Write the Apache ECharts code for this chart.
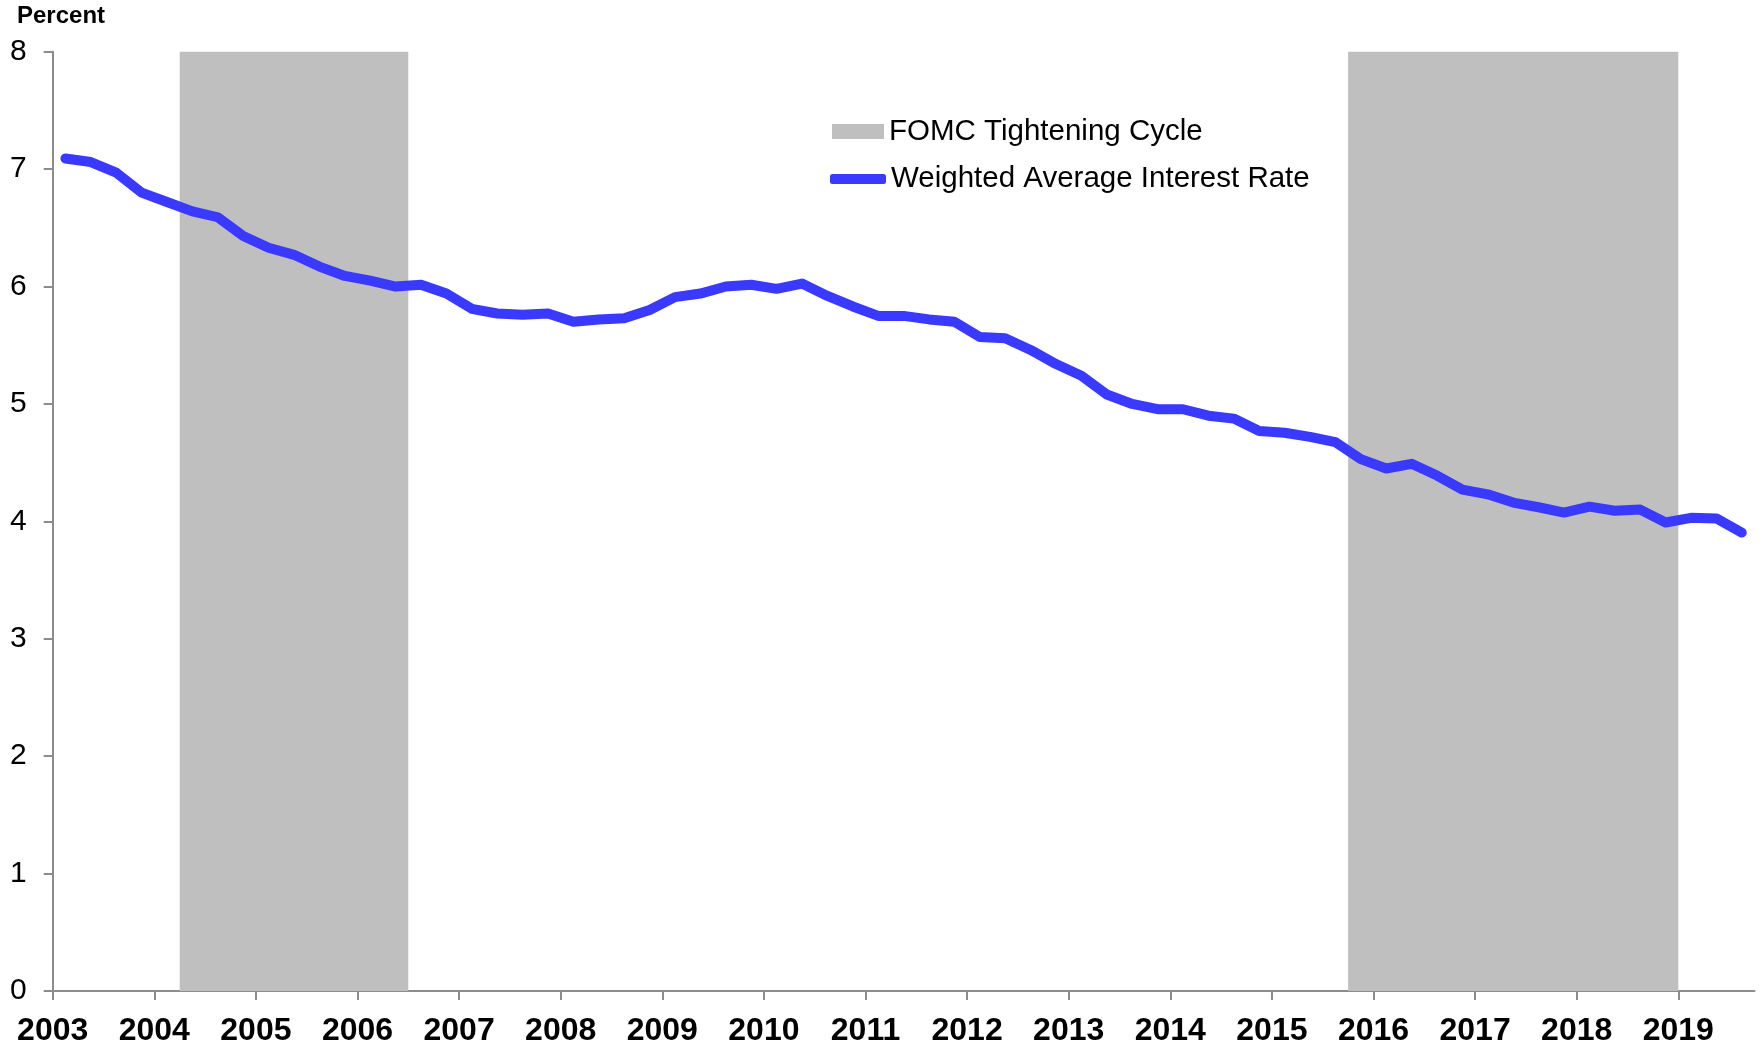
<!DOCTYPE html>
<html>
<head>
<meta charset="utf-8">
<script src="https://cdn.jsdelivr.net/npm/echarts@6/dist/echarts.min.js"></script>
<style>
html,body{margin:0;padding:0;background:#fff;}
#chart{width:1764px;height:1047px;}
</style>
</head>
<body>
<div id="chart"></div>
<script>
// quarterly observations
var quarters = [
	'2003Q1','2003Q2','2003Q3','2003Q4','2004Q1','2004Q2','2004Q3','2004Q4',
	'2005Q1','2005Q2','2005Q3','2005Q4','2006Q1','2006Q2','2006Q3','2006Q4',
	'2007Q1','2007Q2','2007Q3','2007Q4','2008Q1','2008Q2','2008Q3','2008Q4',
	'2009Q1','2009Q2','2009Q3','2009Q4','2010Q1','2010Q2','2010Q3','2010Q4',
	'2011Q1','2011Q2','2011Q3','2011Q4','2012Q1','2012Q2','2012Q3','2012Q4',
	'2013Q1','2013Q2','2013Q3','2013Q4','2014Q1','2014Q2','2014Q3','2014Q4',
	'2015Q1','2015Q2','2015Q3','2015Q4','2016Q1','2016Q2','2016Q3','2016Q4',
	'2017Q1','2017Q2','2017Q3','2017Q4','2018Q1','2018Q2','2018Q3','2018Q4',
	'2019Q1','2019Q2','2019Q3'
];
var rates = [
	7.09,7.06,6.97,6.80,6.72,6.64,6.59,6.43,
	6.33,6.27,6.17,6.09,6.05,6.00,6.015,5.94,
	5.81,5.77,5.76,5.77,5.70,5.72,5.73,5.80,
	5.91,5.94,6.00,6.015,5.98,6.025,5.92,5.83,
	5.75,5.75,5.72,5.70,5.57,5.56,5.46,5.34,
	5.24,5.08,5.00,4.955,4.955,4.90,4.875,4.77,
	4.755,4.72,4.675,4.53,4.45,4.49,4.39,4.27,
	4.23,4.16,4.12,4.075,4.125,4.09,4.10,3.99,
	4.03,4.025,3.905
];
// FOMC tightening cycles (first and last quarter)
var tighteningStart = ['2004Q2','2015Q4'];
var tighteningEnd = ['2006Q2','2018Q4'];
var yearTicks = [2003,2004,2005,2006,2007,2008,2009,2010,2011,2012,2013,2014,2015,2016,2017,2018,2019];
var lastQuarter = '2019Q3';

function qParts(q){
	return [parseInt(q.substr(0,4),10), parseInt(q.substr(5,1),10)];
}
function qStart(q){ var p = qParts(q); return p[0] + (p[1]-1)/4; }
function qEnd(q){ var p = qParts(q); return p[0] + p[1]/4; }
function qMid(q){ var p = qParts(q); return p[0] + (p[1]-0.5)/4; }

var lineData = [];
for (var i = 0; i < quarters.length; i++) {
	lineData.push([qMid(quarters[i]), rates[i]]);
}
var areas = [];
for (var j = 0; j < tighteningStart.length; j++) {
	areas.push([{xAxis: qStart(tighteningStart[j])}, {xAxis: qEnd(tighteningEnd[j])}]);
}

var axisColor = '#8c8c8c';
var font = '"Liberation Sans", Arial, sans-serif';
var myChart = echarts.init(document.getElementById('chart'), null, {renderer: 'canvas'});
var option = {
	animation: false,
	backgroundColor: '#fff',
	grid: {left: 52.7, right: 9.5, top: 51.7, bottom: 54.3, containLabel: false},
	graphic: [{
		type: 'text', left: 17, top: 4,
		style: {text: 'Percent', font: 'bold 24px "Liberation Sans", Arial, sans-serif', fill: '#000'}
	}],
	legend: [{
		data: ['FOMC Tightening Cycle'],
		left: 832, top: 116.5, padding: 0,
		icon: 'rect', itemWidth: 52, itemHeight: 15,
		textStyle: {fontSize: 29.5, fontFamily: font, color: '#000'}
	}, {
		data: ['Weighted Average Interest Rate'],
		left: 830, top: 164, padding: 0,
		icon: 'roundRect', itemWidth: 56, itemHeight: 10,
		textStyle: {fontSize: 29.5, fontFamily: font, color: '#000'}
	}],
	xAxis: {
		type: 'value',
		min: yearTicks[0], max: qEnd(lastQuarter), interval: 1,
		splitLine: {show: false},
		axisLine: {lineStyle: {color: axisColor, width: 2}},
		axisTick: {length: 9, lineStyle: {color: axisColor, width: 2}, customValues: yearTicks},
		axisLabel: {
			customValues: yearTicks,
			margin: 24,
			fontSize: 32, fontWeight: 'bold', color: '#000',
			fontFamily: font,
			formatter: function (v) { return String(v); }
		}
	},
	yAxis: {
		type: 'value', min: 0, max: 8, interval: 1,
		splitLine: {show: false},
		axisLine: {show: true, lineStyle: {color: axisColor, width: 2}},
		axisTick: {show: true, length: 9, lineStyle: {color: axisColor, width: 2}},
		axisLabel: {margin: 26, fontSize: 30, color: '#000', fontFamily: font}
	},
	series: [{
		name: 'FOMC Tightening Cycle',
		type: 'line',
		data: [],
		z: 1,
		itemStyle: {color: '#bfbfbf'},
		lineStyle: {color: '#bfbfbf'},
		markArea: {silent: true, itemStyle: {color: '#bfbfbf', opacity: 1}, data: areas}
	}, {
		name: 'Weighted Average Interest Rate',
		type: 'line',
		data: lineData,
		z: 3,
		symbol: 'none',
		itemStyle: {color: '#3939ff'},
		lineStyle: {color: '#3939ff', width: 10, cap: 'round', join: 'round'}
	}]
};
myChart.setOption(option);
</script>
</body>
</html>
